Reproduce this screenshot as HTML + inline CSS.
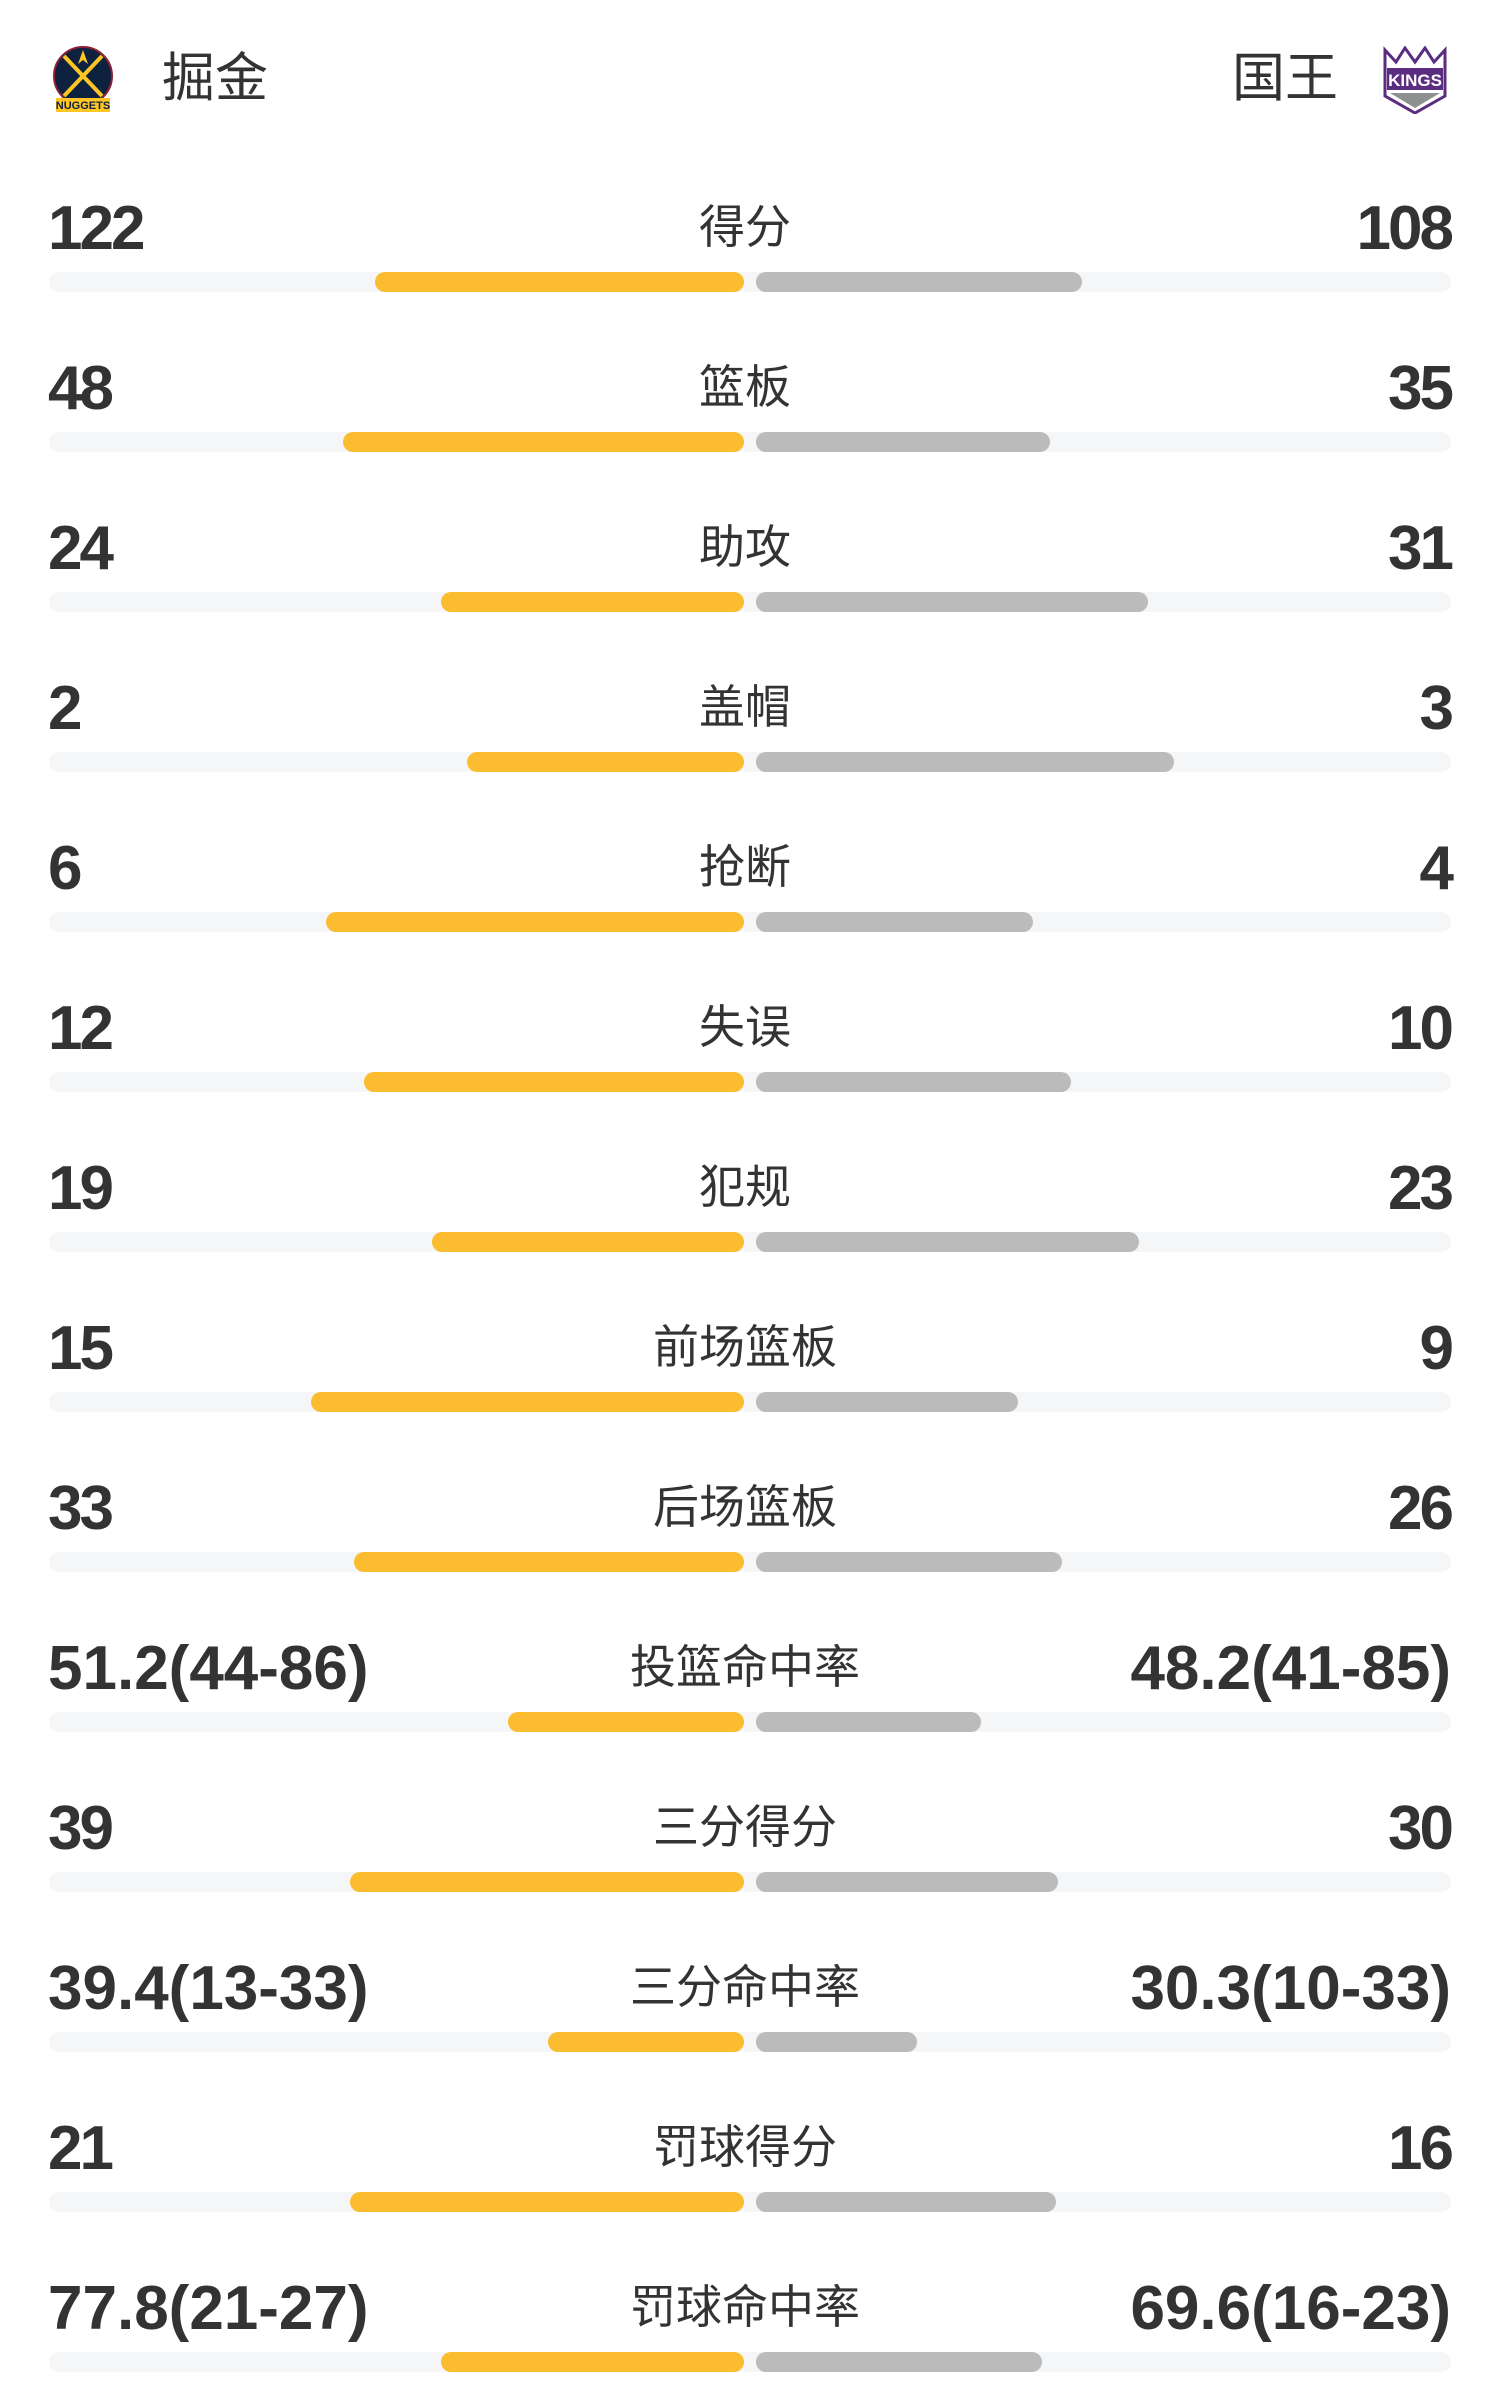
<!DOCTYPE html>
<html><head><meta charset="utf-8"><style>
body{margin:0;width:1500px;height:2400px;background:#fff;position:relative;overflow:hidden;font-family:"Liberation Sans","Noto Sans CJK SC",sans-serif;color:#333}
.n{position:absolute;font-weight:bold;font-size:62px;line-height:62px;letter-spacing:-3px;white-space:nowrap}
.n.w{letter-spacing:0}
.l{left:48px}.r{right:49px;text-align:right}
.lab{position:absolute;left:445px;width:600px;text-align:center;font-size:46px;line-height:50px}
.tr{position:absolute;left:49px;width:1402px;height:20px;background:#F5F6F8;border-radius:10px}
.y,.g{position:absolute;height:20px;border-radius:10px}
.y{background:#FBBD2F}.g{background:#BBBBBB}
.tn{position:absolute;font-size:53px;line-height:58px}
</style></head><body>
<svg style="position:absolute;left:52px;top:46px" width="62" height="68" viewBox="0 0 62 68">
<ellipse cx="31" cy="30" rx="29" ry="29" fill="#0E2240" stroke="#8B2131" stroke-width="2"/>
<path d="M12 10 L50 50 M50 10 L12 50" stroke="#FEC524" stroke-width="4"/>
<path d="M31 4 L36 18 L31 14 L26 18 Z" fill="#FEC524"/>
<rect x="4" y="52" width="54" height="14" fill="#FEC524"/>
<text x="31" y="63" font-size="11" font-weight="bold" text-anchor="middle" fill="#0E2240" font-family="Liberation Sans">NUGGETS</text>
</svg>
<div class="tn" style="left:162px;top:50px">掘金</div>
<div class="tn" style="left:1232px;top:50px">国王</div>
<svg style="position:absolute;left:1382px;top:46px" width="66" height="68" viewBox="0 0 66 68">
<path d="M3 4 L14 16 L23 2 L33 16 L43 2 L52 16 L63 4 L63 50 L33 67 L3 50 Z" fill="#fff" stroke="#5A2D81" stroke-width="3"/>
<rect x="5" y="22" width="56" height="22" fill="#5A2D81"/>
<text x="33" y="40" font-size="17" font-weight="bold" text-anchor="middle" fill="#fff" font-family="Liberation Sans">KINGS</text>
<path d="M8 47 L58 47 L33 62 Z" fill="#8E9090"/>
</svg>
<div id="rows"></div>
<script>
var d=[["122","得分","108",375,1082],["48","篮板","35",343,1050],["24","助攻","31",441,1148],["2","盖帽","3",467,1174],["6","抢断","4",326,1033],["12","失误","10",364,1071],["19","犯规","23",432,1139],["15","前场篮板","9",311,1018],["33","后场篮板","26",354,1062],["51.2(44-86)","投篮命中率","48.2(41-85)",508,981],["39","三分得分","30",350,1058],["39.4(13-33)","三分命中率","30.3(10-33)",548,917],["21","罚球得分","16",350,1056],["77.8(21-27)","罚球命中率","69.6(16-23)",441,1042]];
var h="";
d.forEach(function(r,i){var t=198+160*i,b=272+160*i,w=r[0].length>4?" w":"";
h+='<div class="n l'+w+'" style="top:'+t+'px">'+r[0]+'</div><div class="lab" style="top:'+(t+4)+'px">'+r[1]+'</div><div class="n r'+w+'" style="top:'+t+'px">'+r[2]+'</div>';
h+='<div class="tr" style="top:'+b+'px"></div><div class="y" style="top:'+b+'px;left:'+r[3]+'px;width:'+(744-r[3])+'px"></div><div class="g" style="top:'+b+'px;left:756px;width:'+(r[4]-756)+'px"></div>';});
document.getElementById("rows").innerHTML=h;
</script>
</body></html>
